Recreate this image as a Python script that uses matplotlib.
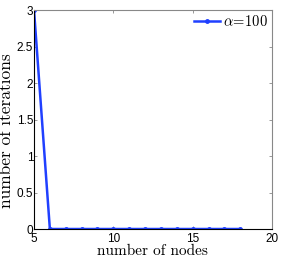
import matplotlib
matplotlib.use('Agg')
import matplotlib.pyplot as plt

nodes = [5, 6, 7, 8, 9, 10, 11, 12, 13, 14, 15, 16, 17, 18]
iterations = [3, 0, 0, 0, 0, 0, 0, 0, 0, 0, 0, 0, 0, 0]
xticks = [5, 10, 15, 20]
yticks = [0, 0.5, 1, 1.5, 2, 2.5, 3]
ytick_labels = ['0', '0.5', '1', '1.5', '2', '2.5', '3']

plt.rcParams['mathtext.fontset'] = 'cm'

fig = plt.figure(figsize=(2.81, 2.58), dpi=100)
ax = fig.add_axes([34/281, 1 - 229/258, 238/281, 219/258])

ax.plot(nodes, iterations, color='#2040ff', linewidth=1.8, marker='o',
        markersize=2.5, label=r'$\alpha\!=\!100$')

ax.set_xlim(5, 20)
ax.set_ylim(0, 3)
ax.set_xticks(xticks)
ax.set_yticks(yticks)
ax.set_xticklabels([str(v) for v in xticks], family='Liberation Sans', fontsize=8.5)
ax.set_yticklabels(ytick_labels, family='Liberation Sans', fontsize=8.5)
ax.tick_params(axis='x', direction='in', length=2, width=0.6, top=True, pad=3,
               colors='#888888', labelcolor='black')
ax.tick_params(axis='y', direction='in', length=2, width=0.6, right=True, pad=0.5,
               colors='#888888', labelcolor='black')

for side in ['top', 'right']:
    ax.spines[side].set_color('#888888')
for side in ['left', 'bottom']:
    ax.spines[side].set_color('black')

ax.set_xlabel('number of nodes', family='cmr10', fontsize=11)
ax.xaxis.set_label_coords(0.498, -0.072)
ax.set_ylabel('number of iterations', family='cmr10', fontsize=12.5)
ax.yaxis.set_label_coords(-0.082, 0.45)

leg = ax.legend(loc='upper right', frameon=False, fontsize=10.5, handlelength=1.8,
                handletextpad=0.2, borderaxespad=0.1, borderpad=0.2)

fig.savefig('out.png', dpi=100, facecolor='w')
